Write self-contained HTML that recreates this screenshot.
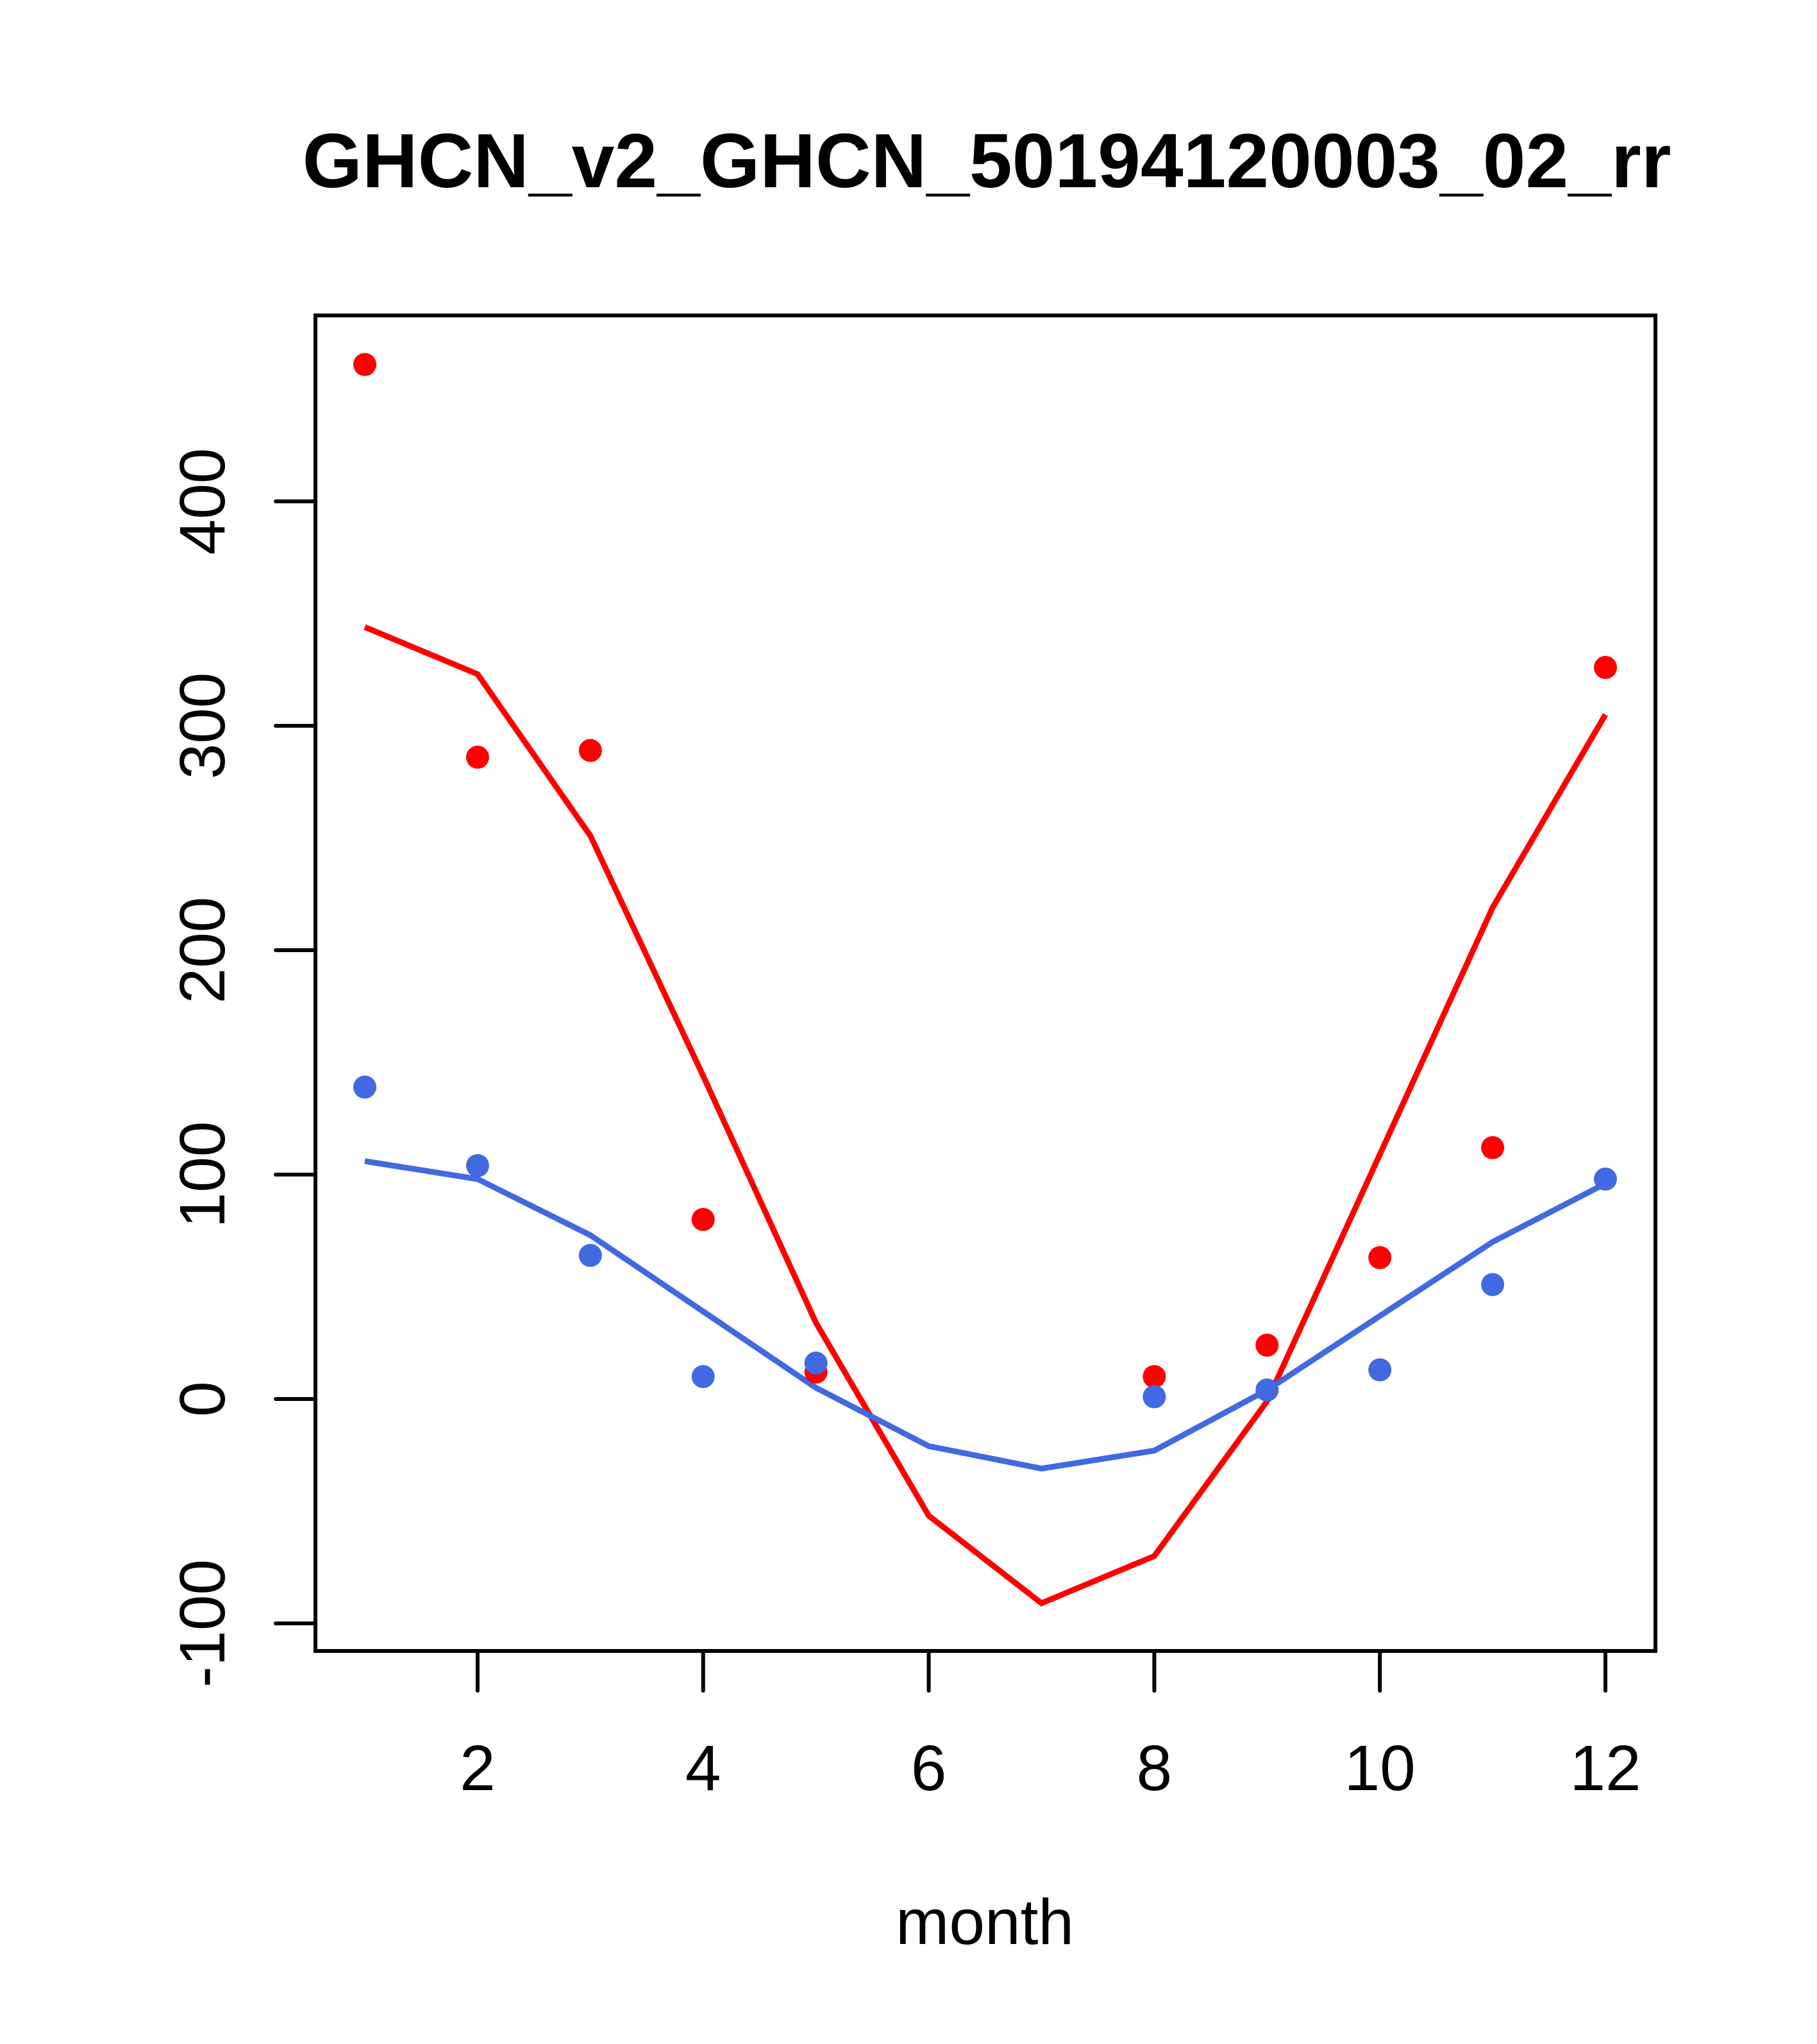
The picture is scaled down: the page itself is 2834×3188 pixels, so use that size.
<!DOCTYPE html>
<html><head><meta charset="utf-8"><style>html,body{margin:0;padding:0;background:#fff}svg{display:block}</style></head>
<body>
<svg id="chart" width="2834" height="3188" xmlns="http://www.w3.org/2000/svg" font-family="Liberation Sans, Arial, sans-serif">
<rect width="2834" height="3188" fill="#fff"/>
<text x="1539" y="292" font-size="120" font-weight="bold" text-anchor="middle">GHCN_v2_GHCN_50194120003_02_rr</text>
<text x="1536" y="3032" font-size="100" text-anchor="middle">month</text>
<rect x="492" y="492" width="2090" height="2083" fill="none" stroke="#000" stroke-width="6"/>
<g id="axes"></g>
<g id="marks"></g>
</svg>
<script>
const months = [1,2,3,4,5,6,7,8,9,10,11,12];
const xTicks = [2,4,6,8,10,12];
const yTicks = [-100,0,100,200,300,400];
const redPointMonths = [1,2,3,4,5,8,9,10,11,12];
const redPoints = [461,286,289,80,12,10,24,63,112,326];
const bluePointMonths = [1,2,3,4,5,8,9,10,11,12];
const bluePoints = [139,104,64,10,16,1,4,13,51,98];
const redLine = [344,323,251,144,34,-52,-91,-70,-1,109,219,305];
const blueLine = [106,98,73,39,5,-21,-31,-23,4,37,70,96];

const NS = 'http://www.w3.org/2000/svg';
function xs(m){ return 569 + (m-1)*(2504-569)/11; }
function ys(v){ return 2182 - v*3.5; }
const axes = document.getElementById('axes');
const marks = document.getElementById('marks');
function mk(tag, attrs, parent){ const e = document.createElementNS(NS, tag); for (const k in attrs) e.setAttribute(k, attrs[k]); parent.appendChild(e); return e; }

xTicks.forEach(t => {
  const l = mk('line', {x1:xs(t), x2:xs(t), y1:2575, y2:2637, stroke:'#000', 'stroke-width':6, 'stroke-linecap':'round'}, axes);
  
  
  const tx = mk('text', {x:xs(t), y:2792, 'font-size':100, 'text-anchor':'middle'}, axes);
  tx.textContent = t;
  
  
});
yTicks.forEach(t => {
  const l = mk('line', {x1:430, x2:492, y1:ys(t), y2:ys(t), stroke:'#000', 'stroke-width':6, 'stroke-linecap':'round'}, axes);
  
  
  const tx = mk('text', {x:0, y:0, 'font-size':100, 'text-anchor':'middle', transform:`translate(350,${ys(t)}) rotate(-90)`}, axes);
  tx.textContent = t;
  
  
});
function line(vals, color, name){
  const p = mk('polyline', {points: vals.map((v,i)=>xs(months[i])+','+ys(v)).join(' '), fill:'none', stroke:color, 'stroke-width':9}, marks);
  
  
}
function pts(ms, vals, color, name){
  vals.forEach((v,i)=>{
    const c = mk('circle', {cx:xs(ms[i]), cy:ys(v), r:18, fill:color}, marks);
    
    
  });
}
line(redLine, '#ff0000', 'red-line');
line(blueLine, '#4169e1', 'blue-line');
pts(redPointMonths, redPoints, '#ff0000', 'red-point');
pts(bluePointMonths, bluePoints, '#4169e1', 'blue-point');
</script>
</body></html>
